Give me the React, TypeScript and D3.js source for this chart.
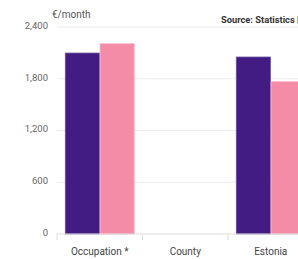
import React from "react";
import * as d3 from "d3";

const categories = ["Occupation *", "County", "Estonia"];
const seriesNames = ["Men", "Women"];
const menValues: (number | null)[] = [2098, null, 2052];
const womenValues: (number | null)[] = [2206, null, 1766];
const yTicks = [0, 600, 1200, 1800, 2400];
const colors = ["#421c82", "#f48ca8"];

export default function App() {
  const W = 298, H = 259;
  const left = 57, top = 27, bottom = 234;
  const step = 85.5;
  const x0 = d3.scaleBand<string>().domain(categories).range([left, left + step * categories.length]).padding(0);
  const x1 = d3.scaleBand<string>().domain(seriesNames).range([8.3, step - 8.3]).paddingInner(0.02);
  const y = d3.scaleLinear().domain([0, 2400]).range([bottom, top]);
  const series = [menValues, womenValues];

  return (
    <svg width={W} height={H} style={{ position: "absolute", left: 0, top: 0, background: "#fff" }} fontFamily="Roboto, sans-serif">
      {yTicks.filter(t => t > 0).map(t => (
        <line key={t} x1={left} x2={W} y1={y(t)} y2={y(t)} stroke="#ececec" strokeWidth={1.2} />
      ))}
      {yTicks.map(t => (
        <text key={t} x={48} y={y(t)} dy="0.2em" textAnchor="end" fontSize={9.5} fill="#666">
          {d3.format(",")(t)}
        </text>
      ))}
      <text x={52} y={18} fontSize={10} fill="#555">€/month</text>
      <text x={221} y={22.5} fontSize={9.3} fontWeight="bold" fill="#333">Source: Statistics Estonia</text>
      {categories.map((c, i) =>
        series.map((vals, s) => {
          const v = vals[i];
          if (v == null) return null;
          const bx = (x0(c) as number) + (x1(seriesNames[s]) as number);
          return (
            <rect key={c + s} x={bx} y={y(v)} width={x1.bandwidth()} height={bottom - y(v)}
              fill={colors[s]} stroke={s === 0 ? "#6a4ea0" : "#f7b0c4"} strokeWidth={0.8} />
          );
        })
      )}
      <line x1={left} x2={W} y1={bottom} y2={bottom} stroke="#ddd" strokeWidth={1} />
      {categories.map(c => (
        <line key={c} x1={x0(c) as number} x2={x0(c) as number} y1={bottom} y2={bottom + 6} stroke="#ddd" />
      ))}
      {categories.map(c => (
        <text key={c} x={(x0(c) as number) + x0.bandwidth() / 2} y={255} textAnchor="middle" fontSize={10} fill="#444">
          {c}
        </text>
      ))}
    </svg>
  );
}
